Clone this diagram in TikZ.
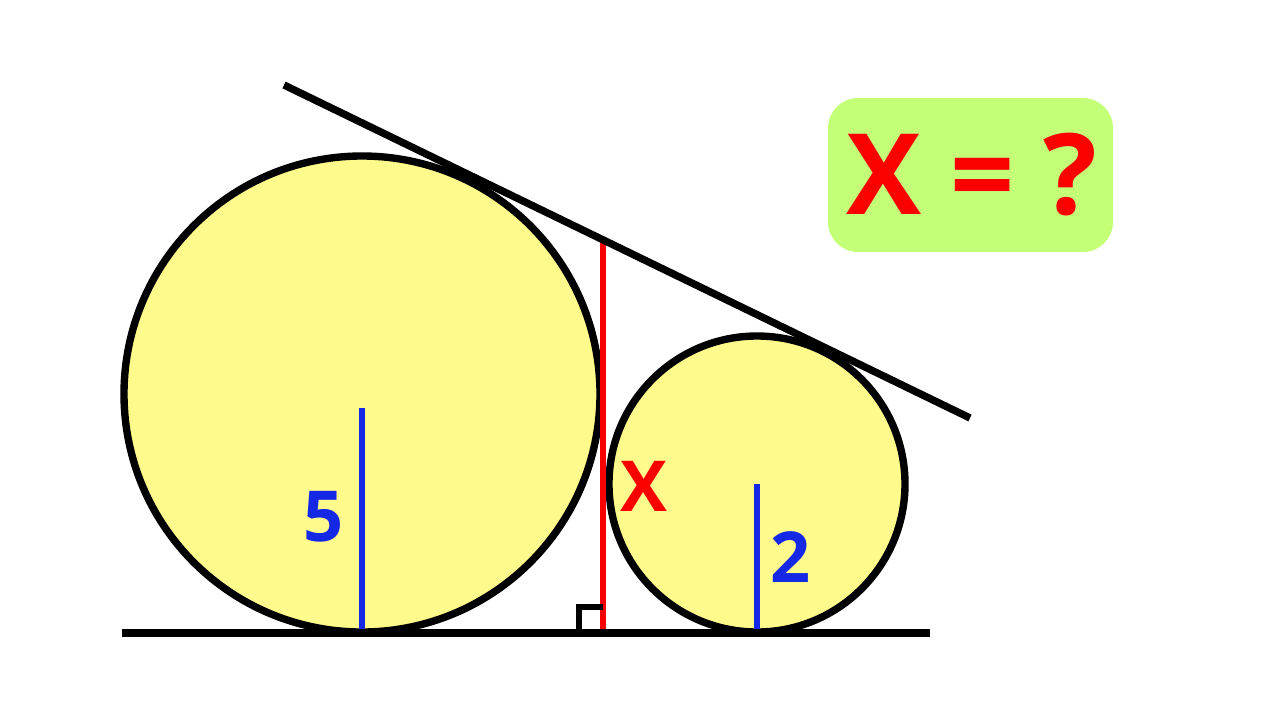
\documentclass[tikz,border=0pt]{standalone}
\usepackage{fontspec}
\setmainfont{Open Sans}
\usetikzlibrary{positioning}
\definecolor{discfill}{RGB}{255,250,140}
\definecolor{lenred}{RGB}{250,0,0}
\definecolor{lenblue}{RGB}{20,40,230}
\definecolor{tagfill}{RGB}{196,255,120}
\tikzset{
    rim/.style={draw=black, line width=4.2pt, fill=discfill},
    edge/.style={draw=black, line width=4.2pt},
    radius line/.style={draw=lenblue, line width=3.6pt},
    height line/.style={draw=lenred, line width=3.6pt},
    lbl/.style={font=\bfseries\fontsize{#1}{#1}\selectfont, inner sep=0pt},
    lbl/.default={40pt}
}
\begin{document}
\begin{tikzpicture}[x=0.02cm, y=-0.02cm]
    \useasboundingbox (0,0) rectangle (1280,720);
    \def \RB {238}
    \def \RS {148}
    % circles
    \coordinate (cb) at (362,394);
    \coordinate (cs) at (757,484);
    \draw[rim] (cb) circle (\RB);
    \draw[rim] (cs) circle (\RS);
    % ground and tangent
    \coordinate (g1) at (122,633);
    \coordinate (g2) at (930,633);
    \coordinate (t1) at (284,85);
    \coordinate (t2) at (970,418);
    \coordinate (fb) at (362,632);
    \coordinate (fs) at (757,632);
    \coordinate (h1) at (603,242);
    \coordinate (h2) at (603,633);
    % radii
    \draw[radius line] (362,408) -- (fb);
    \draw[radius line] (757,484) -- (fs);
    % height x
    \draw[height line] (h1) -- (h2);
    \draw[black, line width=3pt] (579,633) -- (579,607) -- (603,607);
    \draw[edge] (g1) -- (g2);
    \draw[edge] (t1) -- (t2);
    % labels
    \node[lbl=40pt, text=lenblue] (five) at (324,517) {5};
    \node[lbl=40pt, text=lenblue] (two) at (791,557) {2};
    \node[lbl=40pt, text=lenred] (xlen) at (644,486) {X};
    % question box
    \node[fill=tagfill, rounded corners=0.6cm, minimum width=5.7cm, minimum height=3.08cm] (tag) at (970.5,175) {};
    \node[lbl=64pt, text=lenred] (ask) at (972,175) {X = ?};
\end{tikzpicture}
\end{document}
